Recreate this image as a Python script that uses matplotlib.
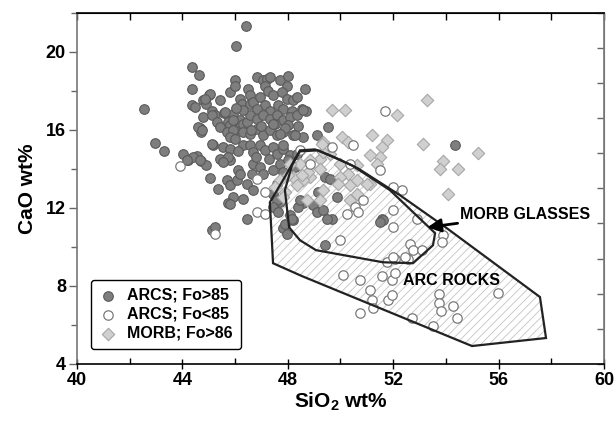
import numpy as np
import matplotlib
matplotlib.use('Agg')
import matplotlib.pyplot as plt
from matplotlib.patches import Polygon
from matplotlib.ticker import MultipleLocator

plt.rcParams['font.family'] = ['Liberation Sans', 'DejaVu Sans']
plt.rcParams['font.weight'] = 'bold'
plt.rcParams['mathtext.fontset'] = 'custom'
plt.rcParams['mathtext.rm'] = 'Liberation Sans:bold'
plt.rcParams['mathtext.bf'] = 'Liberation Sans:bold'
plt.rcParams['hatch.linewidth'] = 0.6

# ARCS; Fo>85 (SiO2, CaO)
arc_hi = [
    (42.55, 17.07), (42.96, 15.31), (43.30, 14.89), (44.01, 14.74), (44.20, 14.47),
    (44.54, 14.63), (44.72, 14.38), (44.88, 14.17), (45.05, 13.52), (45.36, 12.94),
    (44.38, 19.20), (44.64, 18.81), (44.38, 18.06), (44.38, 17.24), (44.48, 17.15),
    (44.80, 17.50), (44.90, 17.33), (45.00, 17.75), (44.67, 16.08), (44.70, 15.88),
    (45.13, 16.98), (45.24, 16.73), (45.43, 17.50), (45.58, 16.85), (45.17, 15.20),
    (45.49, 14.43), (45.81, 14.43), (46.40, 21.30), (46.03, 20.27), (45.81, 17.92),
    (46.00, 18.52), (46.00, 18.26), (46.19, 17.58), (46.25, 17.33), (45.93, 16.82),
    (45.72, 16.39), (45.87, 16.13), (46.00, 15.96), (46.19, 16.47), (46.31, 16.31),
    (46.49, 18.10), (46.57, 17.33), (46.82, 18.69), (47.07, 18.52), (47.20, 18.60),
    (47.32, 18.69), (47.13, 18.26), (47.70, 18.52), (48.02, 18.74), (47.96, 18.26),
    (48.65, 18.10), (45.05, 17.84), (44.86, 17.58), (46.57, 17.77), (46.69, 17.41),
    (46.95, 17.67), (47.26, 18.00), (47.45, 17.77), (47.77, 17.92), (47.96, 17.58),
    (48.21, 17.50), (48.34, 17.67), (48.53, 17.07), (48.70, 16.95), (47.13, 17.24),
    (47.32, 16.98), (47.64, 17.24), (47.83, 17.07), (48.15, 16.98), (46.82, 17.07),
    (44.79, 16.65), (45.11, 16.73), (45.30, 16.39), (45.43, 16.13), (44.60, 16.13),
    (44.73, 15.96), (45.62, 16.90), (45.81, 16.22), (45.93, 16.47), (46.44, 16.39),
    (46.57, 16.73), (46.82, 16.56), (47.07, 16.73), (47.32, 16.56), (47.58, 16.73),
    (47.83, 16.47), (48.08, 16.65), (48.34, 16.73), (48.02, 16.22), (45.68, 15.88),
    (45.93, 15.96), (45.81, 15.62), (46.00, 15.53), (46.31, 15.88), (46.57, 15.79),
    (46.82, 16.05), (47.07, 15.71), (47.32, 15.96), (47.58, 15.71), (47.83, 15.88),
    (48.21, 15.71), (48.59, 15.62), (45.11, 15.28), (45.55, 15.11), (45.81, 15.02),
    (46.31, 15.20), (46.57, 15.20), (46.69, 14.85), (46.95, 15.20), (47.13, 14.94),
    (47.45, 15.11), (47.58, 14.77), (47.83, 15.02), (48.08, 14.68), (48.34, 14.77),
    (44.41, 14.60), (44.67, 14.43), (45.43, 14.51), (45.74, 14.60), (44.16, 14.43),
    (45.68, 13.41), (45.81, 13.15), (46.06, 13.41), (45.93, 12.55), (45.74, 12.22),
    (46.31, 12.47), (46.44, 13.24), (46.69, 12.90), (46.44, 11.45), (45.11, 10.85),
    (45.24, 11.02), (45.55, 14.34), (46.12, 13.92), (46.19, 13.75), (46.69, 14.26),
    (46.95, 14.09), (47.07, 13.75), (47.45, 13.92), (46.63, 13.75), (47.58, 13.24),
    (47.45, 12.72), (47.70, 12.30), (47.83, 10.94), (49.54, 16.13), (49.10, 15.71),
    (48.27, 15.71), (47.83, 15.20), (47.70, 14.26), (48.02, 14.43), (48.27, 14.09),
    (47.83, 13.83), (49.41, 13.58), (49.60, 13.49), (49.16, 12.81), (49.85, 12.55),
    (48.59, 12.22), (48.97, 12.13), (49.10, 11.79), (49.35, 11.87), (48.08, 11.62),
    (48.21, 11.36), (48.40, 12.04), (48.46, 12.38), (49.66, 11.45), (49.47, 11.45),
    (51.56, 11.45), (51.62, 11.36), (54.35, 15.20), (47.58, 12.38), (47.45, 12.04),
    (47.64, 11.79), (45.81, 12.18), (47.89, 11.19), (47.96, 10.68), (48.15, 11.45),
    (49.41, 10.07), (51.50, 11.28), (48.59, 16.99), (46.30, 17.00), (46.05, 17.10),
    (47.50, 16.30), (47.00, 16.20), (46.60, 16.00), (47.90, 16.10), (48.40, 16.20),
    (46.10, 14.90), (47.30, 14.50), (46.80, 14.60), (47.45, 16.30), (47.70, 15.80),
]

# ARCS; Fo<85
arc_lo = [
    (43.92, 14.14), (45.24, 10.68), (46.82, 11.79), (47.13, 11.70), (47.13, 12.81),
    (46.82, 13.49), (48.46, 14.94), (48.84, 14.26), (49.66, 15.11), (50.49, 15.20),
    (50.36, 14.26), (51.50, 13.92), (52.00, 13.07), (52.32, 12.90), (50.87, 12.38),
    (50.55, 12.04), (50.68, 11.79), (50.24, 11.70), (52.00, 11.87), (52.89, 11.45),
    (52.00, 11.02), (51.69, 16.94), (53.90, 10.60), (53.84, 10.25), (52.64, 10.17),
    (52.76, 9.83), (53.08, 9.83), (52.57, 9.40), (52.07, 9.40), (51.75, 9.23),
    (49.98, 10.34), (50.11, 8.55), (50.74, 8.29), (51.56, 8.50), (51.94, 8.29),
    (52.07, 8.64), (51.12, 7.78), (51.18, 7.27), (51.25, 6.85), (51.81, 7.27),
    (51.94, 7.53), (50.74, 6.59), (52.70, 6.34), (53.52, 5.94), (53.72, 7.56),
    (53.72, 7.13), (53.80, 6.71), (54.28, 6.97), (54.41, 6.34), (55.99, 7.65),
    (52.00, 9.49), (52.45, 9.49),
]

# MORB; Fo>86
morb = [
    (53.30, 17.50), (49.67, 16.99), (50.17, 17.02), (52.13, 16.76), (53.14, 15.25),
    (51.18, 15.71), (51.75, 15.48), (50.05, 15.62), (50.30, 15.36), (49.35, 15.36),
    (53.90, 14.40), (53.78, 14.00), (54.47, 14.00), (55.20, 14.80), (54.09, 12.72),
    (51.56, 15.11), (51.50, 14.60), (51.12, 14.68), (51.37, 14.26), (51.12, 13.24),
    (49.60, 14.77), (49.22, 14.51), (49.98, 14.26), (50.30, 13.75), (50.61, 14.17),
    (50.36, 13.15), (50.36, 12.38), (50.61, 12.72), (48.84, 13.58), (49.22, 14.00),
    (48.59, 13.41), (49.35, 12.90), (48.71, 12.38), (49.35, 14.85), (48.84, 14.43),
    (48.46, 14.26), (48.78, 13.83), (48.21, 13.58), (49.98, 13.58), (50.61, 13.41),
    (50.99, 13.24), (48.53, 13.66), (48.02, 13.66), (47.70, 13.41), (48.34, 13.15),
    (47.51, 13.07), (47.89, 12.81), (49.92, 13.24), (49.22, 12.38), (47.83, 12.55),
    (49.29, 15.28), (48.08, 14.26),
]

# field outlines
arc_field = [
    (47.44, 9.16), (47.32, 12.28), (47.86, 13.51), (48.46, 14.94), (49.03, 14.99),
    (49.79, 14.58), (50.66, 14.02), (52.26, 12.64), (54.04, 10.95), (57.57, 7.43),
    (57.80, 5.33), (54.99, 4.92), (48.54, 8.50),
]
morb_field = [
    (48.46, 14.89), (49.15, 14.94), (50.44, 14.17), (51.88, 12.90), (53.59, 10.70),
    (53.51, 10.08), (52.75, 9.16), (51.61, 9.21), (49.07, 9.83), (48.46, 10.34),
    (48.05, 11.00), (47.89, 12.90), (48.16, 14.17),
]

fig = plt.figure(figsize=(6.16, 4.21), dpi=100)
ax = fig.add_axes([0.125, 0.1354, 0.8555, 0.8349])

ax.add_patch(Polygon(arc_field, closed=True, facecolor='white', hatch='////',
                     edgecolor='#c4c4c4', lw=0, zorder=1))
ax.add_patch(Polygon(arc_field, closed=True, fill=False, edgecolor='#222222',
                     lw=1.6, zorder=5))
ax.add_patch(Polygon(morb_field, closed=True, fill=False, edgecolor='#222222',
                     lw=1.6, zorder=5))

x1, y1 = zip(*arc_hi)
x2, y2 = zip(*arc_lo)
x3, y3 = zip(*morb)
ax.scatter(x1, y1, s=48, c='#7e7e7e', edgecolors='#5a5a5a', linewidths=0.8,
           zorder=2, label='ARCS; Fo>85')
ax.scatter(x2, y2, s=46, c='white', edgecolors='#7a7a7a', linewidths=0.9,
           zorder=4, label='ARCS; Fo<85')
ax.scatter(x3, y3, s=40, marker='D', c='#d0d0d0', edgecolors='#a6a6a6',
           linewidths=0.8, zorder=3, label='MORB; Fo>86')

ax.annotate('MORB GLASSES', xy=(53.3, 11.0), xytext=(54.55, 11.67),
            fontsize=11.5, fontweight='bold', va='center', ha='left', zorder=6,
            arrowprops=dict(arrowstyle='-|>,head_length=0.7,head_width=0.35',
                            color='black', lw=2, shrinkA=0, shrinkB=0))
ax.text(54.21, 8.29, 'ARC ROCKS', fontsize=11.5, fontweight='bold',
        ha='center', va='center', zorder=6)

ax.set_xlim(40, 60)
ax.set_ylim(4, 22)
ax.set_xticks([40, 44, 48, 52, 56, 60])
ax.set_yticks([4, 8, 12, 16, 20])
ax.xaxis.set_minor_locator(MultipleLocator(2))
ax.yaxis.set_minor_locator(MultipleLocator(2))
ax.tick_params(axis='x', which='major', direction='inout', length=7, width=1,
               labelsize=13, pad=2)
ax.tick_params(axis='x', which='minor', direction='in', length=4, width=1)
ax.tick_params(axis='y', which='major', direction='out', length=6, width=1,
               labelsize=13, pad=2, color='#666666')
ax.tick_params(axis='y', which='minor', direction='out', length=4, width=1,
               color='#666666')
for lab in ax.get_xticklabels() + ax.get_yticklabels():
    lab.set_fontweight('bold')

top = ax.secondary_xaxis('top')
top.set_xticks(np.arange(40, 61, 2))
top.tick_params(direction='in', length=5, width=1, labeltop=False)
right = ax.secondary_yaxis('right')
right.set_yticks(np.linspace(4, 22, 11))
right.tick_params(direction='in', length=5, width=1, labelright=False,
                  color='#666666')
right.spines['right'].set_color('#777777')

ax.spines['left'].set_color('#777777')
ax.spines['right'].set_color('#777777')
for s in ax.spines.values():
    s.set_linewidth(1.2)

ax.set_xlabel('SiO$_\\mathbf{2}$ wt%', fontsize=15, fontweight='bold', labelpad=1)
ax.set_ylabel('CaO wt%', fontsize=15, fontweight='bold', labelpad=6)

leg = ax.legend(loc='lower left', bbox_to_anchor=(0.026, 0.043), fontsize=11.5,
                frameon=True, fancybox=True, edgecolor='black', framealpha=1,
                handletextpad=0.6, borderpad=0.5, labelspacing=0.25,
                handlelength=1.2, borderaxespad=0)
leg.get_frame().set_linewidth(1.0)
for t in leg.get_texts():
    t.set_fontweight('bold')

plt.savefig('out.png', dpi=100)
